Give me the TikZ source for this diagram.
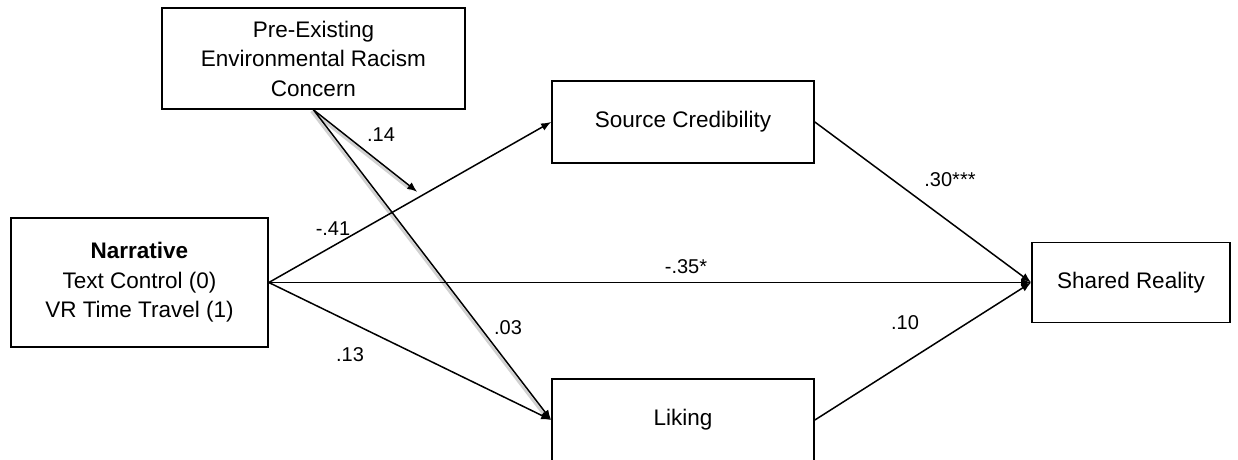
\documentclass[tikz,border=0pt]{standalone}
\usepackage{fontspec}
\setmainfont{Liberation Sans}
\usetikzlibrary{arrows.meta,calc}
\begin{document}
\begin{tikzpicture}[x=1pt,y=-1pt,
  box/.style={draw=black,line width=1.7pt,align=center,inner sep=0pt,
    font=\fontsize{22.5}{29.5}\selectfont},
  conn/.style={draw=black,line width=1.5pt,-{Latex[length=10pt,width=8pt]}},
  shadowline/.style={draw=black!18,line width=2.6pt},
  lbl/.style={font=\fontsize{20}{24}\selectfont,inner sep=0pt}]
\useasboundingbox (0,0) rectangle (1238,459);
\node[box,minimum width=303pt,minimum height=101pt] (con) at (313.5,58.5)
  {Pre-Existing\\Environmental Racism\\Concern};
\node[box,minimum width=257pt,minimum height=129pt] (nar) at (139.5,282.5)
  {\textbf{Narrative}\\Text Control (0)\\VR Time Travel (1)};
\node[box,minimum width=262pt,minimum height=82pt] (sc) at (683,122) {Source Credibility};
\node[box,minimum width=262pt,minimum height=82pt] (lik) at (683,420) {Liking};
\node[box,minimum width=198pt,minimum height=80pt] (sr) at (1131,282.5) {Shared Reality};
\coordinate (mod) at ($(nar.east)!0.542!(sc.west)$);
% shadows under the moderator lines
\draw[shadowline,shorten >=4pt] ([shift={(-2,1.5)}]con.south) -- ([shift={(-2,1.5)}]lik.west);
\draw[shadowline,shorten >=12pt] ([shift={(-2,1.5)}]con.south) -- ([shift={(-2,1.5)}]mod);
% paths
\draw[conn] (nar.east) -- (sc.west);
\draw[conn] (nar.east) -- (lik.west);
\draw[conn] (nar.east) -- (sr.west);
\draw[conn] (sc.east) -- (sr.west);
\draw[conn] (lik.east) -- (sr.west);
\draw[conn] (con.south) -- (lik.west);
\draw[conn,shorten >=6pt] (con.south) -- (mod);
% labels
\node[lbl] (l14) at (381,135) {.14};
\node[lbl] (l41) at (333,229) {-.41};
\node[lbl] (l35) at (686,267) {-.35*};
\node[lbl] (l13) at (350,355) {.13};
\node[lbl] (l03) at (508,328) {.03};
\node[lbl] (l30) at (950,180) {.30***};
\node[lbl] (l10) at (905,323) {.10};
\end{tikzpicture}
\end{document}
